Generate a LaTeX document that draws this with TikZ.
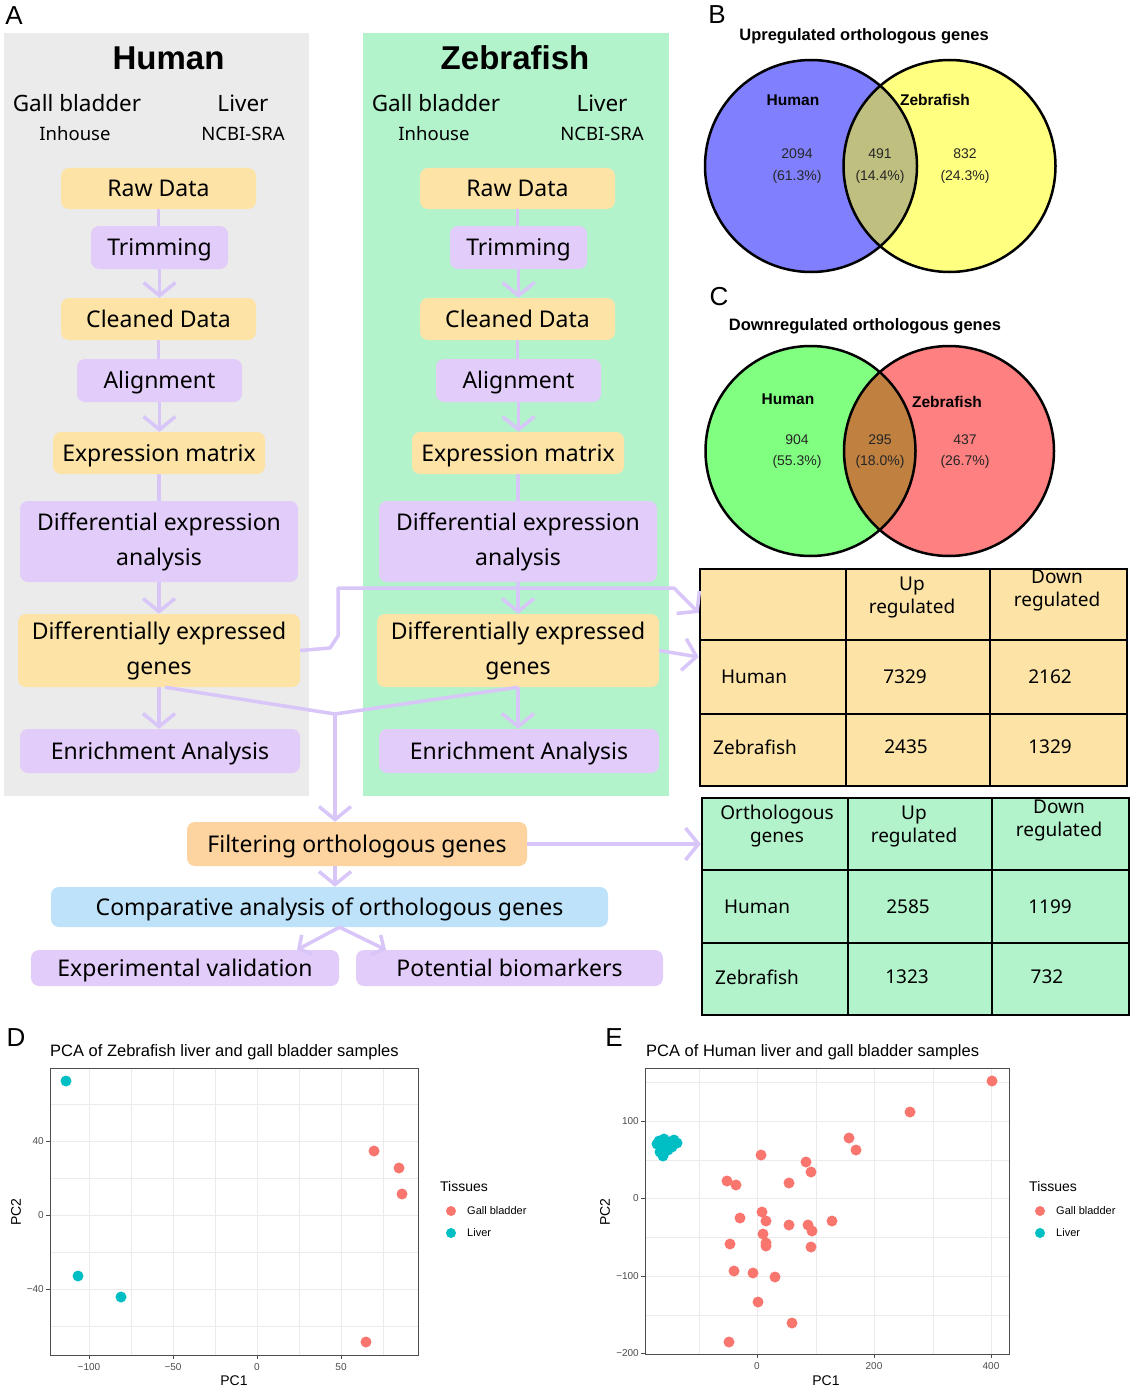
\documentclass[tikz,border=0pt]{standalone}
\usepackage{fontspec}
\setmainfont{Liberation Sans}
\newfontfamily\flowf{Noto Sans}
\usetikzlibrary{arrows.meta}
\definecolor{panelgray}{HTML}{EBEBEB}
\definecolor{panelgreen}{HTML}{B2F3CB}
\definecolor{boxyellow}{HTML}{FDE4A6}
\definecolor{boxpurple}{HTML}{E2CCFA}
\definecolor{boxorange}{HTML}{FDD3A0}
\definecolor{boxblue}{HTML}{BDE2F9}
\definecolor{arrowc}{HTML}{D9C6F8}
\definecolor{vblue}{HTML}{8080FF}
\definecolor{vyellow}{HTML}{FFFF80}
\definecolor{volive}{HTML}{BFBF80}
\definecolor{vgreen}{HTML}{80FF80}
\definecolor{vred}{HTML}{FF8080}
\definecolor{vbrown}{HTML}{BF8040}
\definecolor{pred}{HTML}{F8766D}
\definecolor{pteal}{HTML}{00BFC4}
\definecolor{gridc}{HTML}{EBEBEB}
\definecolor{axisc}{HTML}{4D4D4D}
\begin{document}
\begin{tikzpicture}[x=1pt,y=-1pt,
  fbox/.style={rounded corners=8pt, inner sep=0pt, align=center, font=\flowf\fontsize{23}{35}\selectfont},
  one/.style={text height=16.4pt, text depth=0pt},
  ybox/.style={fbox, fill=boxyellow},
  pbox/.style={fbox, fill=boxpurple},
  arrowline/.style={draw=arrowc, line width=3.5pt, line join=round},
  flowarr/.style={arrowline, -{Straight Barb[length=13pt,width=32pt]}},
  smallarr/.style={arrowline, -{Straight Barb[length=9pt,width=22pt]}},
  hdr/.style={inner sep=0pt, font=\flowf\fontsize{22.5}{26}\selectfont},
  subl/.style={inner sep=0pt, font=\flowf\fontsize{18.5}{21}\selectfont},
  ttl/.style={inner sep=0pt, font=\bfseries\fontsize{33}{38}\selectfont},
  tcell/.style={inner sep=0pt, align=center, font=\flowf\fontsize{19}{23}\selectfont},
  plab/.style={inner sep=0pt, font=\fontsize{26}{30}\selectfont},
  vtitle/.style={inner sep=0pt, font=\bfseries\fontsize{16.5}{19}\selectfont},
  vname/.style={inner sep=0pt, font=\bfseries\fontsize{15.5}{18}\selectfont},
  vnum/.style={inner sep=0pt, font=\fontsize{14}{17}\selectfont, text=black!85},
  ptitle/.style={inner sep=0pt, anchor=west, font=\fontsize{16.5}{19}\selectfont},
  ticklab/.style={inner sep=0pt, font=\fontsize{10}{12}\selectfont, text=axisc},
  axlab/.style={inner sep=0pt, font=\fontsize{14}{16}\selectfont},
  leg/.style={inner sep=0pt, anchor=west, font=\fontsize{11}{13}\selectfont},
  legt/.style={inner sep=0pt, anchor=west, font=\fontsize{14}{16}\selectfont},
  majg/.style={draw=gridc, line width=1pt},
  ming/.style={draw=gridc, line width=0.5pt},
  frame/.style={draw=axisc, line width=1pt},
  tmark/.style={draw=axisc, line width=0.8pt},
  tabbox/.style={draw=black, line width=2.5pt, inner sep=0pt},
  tabline/.style={draw=black, line width=2.5pt}
]
\fill[white] (0,0) rectangle (1135,1391);
\useasboundingbox (0,0) rectangle (1135,1391);

% ---------------- Panel A ----------------
\fill[panelgray] (4,33) rectangle (309,796);
\fill[panelgreen] (363,33) rectangle (669,796);
\node[plab] (labA) at (14,16) {A};
\node[ttl] (hT) at (168.5,58) {Human};
\node[ttl] (zT) at (515,58) {Zebrafish};
\node[hdr] (hg) at (77,103) {Gall bladder};
\node[hdr] (hl) at (243,103) {Liver};
\node[subl] (hi) at (75,134) {Inhouse};
\node[subl] (hn) at (243,134) {NCBI-SRA};
\node[hdr] (zg) at (436,103) {Gall bladder};
\node[hdr] (zl) at (602,103) {Liver};
\node[subl] (zi) at (434,134) {Inhouse};
\node[subl] (zn) at (602,134) {NCBI-SRA};

\foreach \p/\dx in {h/0,z/359}{
  \node[ybox, one, minimum width=195pt, minimum height=41pt] (\p raw) at (158.5+\dx,188.5) {Raw Data};
  \node[pbox, one, minimum width=137pt, minimum height=43pt] (\p trim) at (159.5+\dx,247.5) {Trimming};
  \node[ybox, one, minimum width=195pt, minimum height=42pt] (\p clean) at (158.5+\dx,319) {Cleaned Data};
  \node[pbox, one, minimum width=165pt, minimum height=43pt] (\p align) at (159.5+\dx,380.5) {Alignment};
  \node[ybox, one, minimum width=212pt, minimum height=42pt] (\p expr) at (159+\dx,453) {Expression matrix};
  \node[pbox, minimum width=278pt, minimum height=81pt] (\p dea) at (159+\dx,541.5) {Differential expression\\analysis};
  \node[ybox, minimum width=282pt, minimum height=73pt] (\p deg) at (159+\dx,650.5) {Differentially expressed\\genes};
  \node[pbox, one, minimum width=280pt, minimum height=44pt] (\p enr) at (160+\dx,751) {Enrichment Analysis};
}
\node[fbox, one, fill=boxorange, minimum width=340pt, minimum height=44pt] (filt) at (357,844) {Filtering orthologous genes};
\node[fbox, one, fill=boxblue, minimum width=557pt, minimum height=40pt] (comp) at (329.5,907) {Comparative analysis of orthologous genes};
\node[pbox, one, minimum width=308pt, minimum height=36pt] (expv) at (185,968) {Experimental validation};
\node[pbox, one, minimum width=307pt, minimum height=36pt] (potb) at (509.5,968) {Potential biomarkers};

\foreach \p in {h,z}{
  \draw[arrowline] (\p raw.south) -- (\p raw.south |- \p trim.north);
  \draw[flowarr] (\p trim.south) -- (\p trim.south |- \p clean.north);
  \draw[arrowline] (\p clean.south) -- (\p clean.south |- \p align.north);
  \draw[flowarr] (\p align.south) -- (\p align.south |- \p expr.north);
  \draw[arrowline] (\p expr.south) -- (\p expr.south |- \p dea.north);
  \draw[flowarr] (\p dea.south) -- (\p dea.south |- \p deg.north);
  \draw[flowarr] (\p deg.south) -- (\p deg.south |- \p enr.north);
}

% ---------------- Tables ----------------
\node[tabbox, fill=boxyellow, minimum width=427pt, minimum height=217pt] (t1) at (913.5,677.5) {};
\draw[tabline] (846,569) -- (846,786);
\draw[tabline] (990,569) -- (990,786);
\draw[tabline] (700,640) -- (1127,640);
\draw[tabline] (700,714) -- (1127,714);
\node[tcell] (t1u) at (912,597) {Up\\regulated};
\node[tcell] (t1d) at (1057,590) {Down\\regulated};
\node[tcell] (t1h) at (754,677) {Human};
\node[tcell] (t1h1) at (905,677) {7329};
\node[tcell] (t1h2) at (1050,677) {2162};
\node[tcell] (t1z) at (755,747) {Zebrafish};
\node[tcell] (t1z1) at (906,747) {2435};
\node[tcell] (t1z2) at (1050,747) {1329};

\node[tabbox, fill=panelgreen, minimum width=427pt, minimum height=217pt] (t2) at (915.5,906.5) {};
\draw[tabline] (848,798) -- (848,1015);
\draw[tabline] (992,798) -- (992,1015);
\draw[tabline] (702,870) -- (1129,870);
\draw[tabline] (702,943) -- (1129,943);
\node[tcell] (t2o) at (777,826) {Orthologous\\genes};
\node[tcell] (t2u) at (914,826) {Up\\regulated};
\node[tcell] (t2d) at (1059,820) {Down\\regulated};
\node[tcell] (t2h) at (757,907) {Human};
\node[tcell] (t2h1) at (908,907) {2585};
\node[tcell] (t2h2) at (1050,907) {1199};
\node[tcell] (t2z) at (757,977) {Zebrafish};
\node[tcell] (t2z1) at (907,977) {1323};
\node[tcell] (t2z2) at (1047,977) {732};

% ---------------- cross connectors ----------------
\coordinate (join) at (335,714);
\draw[arrowline] ([xshift=6pt]hdeg.south) -- (join);
\draw[arrowline] (zdeg.south) -- (join);
\draw[flowarr] (join) -- (join |- filt.north);
\draw[flowarr] (filt.south -| join) -- (comp.north -| join);
\draw[smallarr] ([xshift=10pt]comp.south) -- ([xshift=112pt]expv.north);
\draw[smallarr] ([xshift=10pt]comp.south) -- ([xshift=-123.5pt]potb.north);
\draw[flowarr] (hdeg.east) -- (330,648) -- (338,636) -- (338,588) -- (674,588) -- (t1.west |- 0,613);
\draw[flowarr] (zdeg.east) -- (t1.west |- 0,657);
\draw[flowarr] (filt.east) -- (filt.east -| t2.west);

% ---------------- Venn B ----------------
\node[plab] (labB) at (717,15) {B};
\node[vtitle] (vbt) at (864,36) {Upregulated orthologous genes};
\fill[vblue] (811,166) circle (106pt);
\fill[vyellow] (949.5,166) circle (106pt);
\begin{scope}
  \clip (811,166) circle (106pt);
  \fill[volive] (949.5,166) circle (106pt);
\end{scope}
\draw[line width=2.5pt] (811,166) circle (106pt);
\draw[line width=2.5pt] (949.5,166) circle (106pt);
\node[vname] (vbh) at (793,100) {Human};
\node[vname] (vbz) at (935,100) {Zebrafish};
\node[vnum] (vb1) at (797,154) {2094};
\node[vnum] (vb1p) at (797,177) {(61.3\%)};
\node[vnum] (vb2) at (880,154) {491};
\node[vnum] (vb2p) at (880,177) {(14.4\%)};
\node[vnum] (vb3) at (965,154) {832};
\node[vnum] (vb3p) at (965,177) {(24.3\%)};

% ---------------- Venn C ----------------
\node[plab] (labC) at (719,297) {C};
\node[vtitle] (vct) at (865,326) {Downregulated orthologous genes};
\fill[vgreen] (810.5,451) circle (105pt);
\fill[vred] (949,451) circle (105pt);
\begin{scope}
  \clip (810.5,451) circle (105pt);
  \fill[vbrown] (949,451) circle (105pt);
\end{scope}
\draw[line width=2.5pt] (810.5,451) circle (105pt);
\draw[line width=2.5pt] (949,451) circle (105pt);
\node[vname] (vch) at (788,399) {Human};
\node[vname] (vcz) at (947,402) {Zebrafish};
\node[vnum] (vc1) at (797,440) {904};
\node[vnum] (vc1p) at (797,462) {(55.3\%)};
\node[vnum] (vc2) at (880,440) {295};
\node[vnum] (vc2p) at (880,462) {(18.0\%)};
\node[vnum] (vc3) at (965,440) {437};
\node[vnum] (vc3p) at (965,462) {(26.7\%)};

% ---------------- PCA D ----------------
\node[plab] (labD) at (16,1038) {D};
\node[ptitle] (dT) at (50,1052) {PCA of Zebrafish liver and gall bladder samples};
\fill[white] (50,1068) rectangle (418,1355);
\foreach \g in {131,215,299,383} \draw[ming] (\g,1068) -- (\g,1355);
\foreach \g in {1104,1178,1252,1326} \draw[ming] (50,\g) -- (418,\g);
\foreach \g in {89,173,257,341} \draw[majg] (\g,1068) -- (\g,1355);
\foreach \g in {1141,1215,1289} \draw[majg] (50,\g) -- (418,\g);
\draw[frame] (50,1068) rectangle (418,1355);
\foreach \g/\t in {89/−100,173/−50,257/0,341/50}{
  \draw[tmark] (\g,1355) -- (\g,1359);
  \node[ticklab] at (\g,1367) {\t};
}
\foreach \g/\t in {1141/40,1215/0,1289/−40}{
  \draw[tmark] (50,\g) -- (46,\g);
  \node[ticklab, anchor=east] at (44,\g) {\t};
}
\node[axlab] (dx) at (234,1381) {PC1};
\node[axlab, rotate=90] (dy) at (16,1212) {PC2};
\foreach \px/\py in {66/1081,78/1276,121/1297} \fill[pteal] (\px,\py) circle (5.5pt);
\foreach \px/\py in {374/1151,399/1168,402/1194,366/1342} \fill[pred] (\px,\py) circle (5.5pt);
\node[legt] (dlt) at (440,1186) {Tissues};
\fill[pred] (451,1211) circle (5pt);
\fill[pteal] (451,1233) circle (5pt);
\node[leg] (dl1) at (467,1211) {Gall bladder};
\node[leg] (dl2) at (467,1233) {Liver};

% ---------------- PCA E ----------------
\node[plab] (labE) at (614,1038) {E};
\node[ptitle] (eT) at (646,1052) {PCA of Human liver and gall bladder samples};
\fill[white] (645,1068) rectangle (1009,1354);
\foreach \g in {699,816,933} \draw[ming] (\g,1068) -- (\g,1354);
\foreach \g in {1082,1160,1237,1315} \draw[ming] (645,\g) -- (1009,\g);
\foreach \g in {757,874,991} \draw[majg] (\g,1068) -- (\g,1354);
\foreach \g in {1121,1198,1276} \draw[majg] (645,\g) -- (1009,\g);
\draw[frame] (645,1068) rectangle (1009,1354);
\foreach \g/\t in {757/0,874/200,991/400}{
  \draw[tmark] (\g,1354) -- (\g,1358);
  \node[ticklab] at (\g,1366) {\t};
}
\foreach \g/\t in {1121/100,1198/0,1276/−100,1353/−200}{
  \draw[tmark] (645,\g) -- (641,\g);
  \node[ticklab, anchor=east] at (639,\g) {\t};
}
\node[axlab] (ex) at (826,1381) {PC1};
\node[axlab, rotate=90] (ey) at (605,1212) {PC2};
\foreach \px/\py in {659/1141,664/1139,669/1142,674/1140,677/1143,661/1147,667/1146,672/1147,660/1152,665/1151,663/1156,668/1150,657/1144}
  \fill[pteal] (\px,\py) circle (5.5pt);
\foreach \px/\py in {992/1081,910/1112,849/1138,856/1150,761/1155,806/1162,811/1172,727/1181,736/1185,789/1183,762/1212,766/1221,740/1218,789/1225,808/1225,812/1231,832/1221,763/1234,766/1243,766/1246,730/1244,811/1247,734/1271,753/1273,775/1277,758/1302,792/1323,729/1342}
  \fill[pred] (\px,\py) circle (5.5pt);
\node[legt] (elt) at (1029,1186) {Tissues};
\fill[pred] (1040,1211) circle (5pt);
\fill[pteal] (1040,1233) circle (5pt);
\node[leg] (el1) at (1056,1211) {Gall bladder};
\node[leg] (el2) at (1056,1233) {Liver};
\end{tikzpicture}
\end{document}
